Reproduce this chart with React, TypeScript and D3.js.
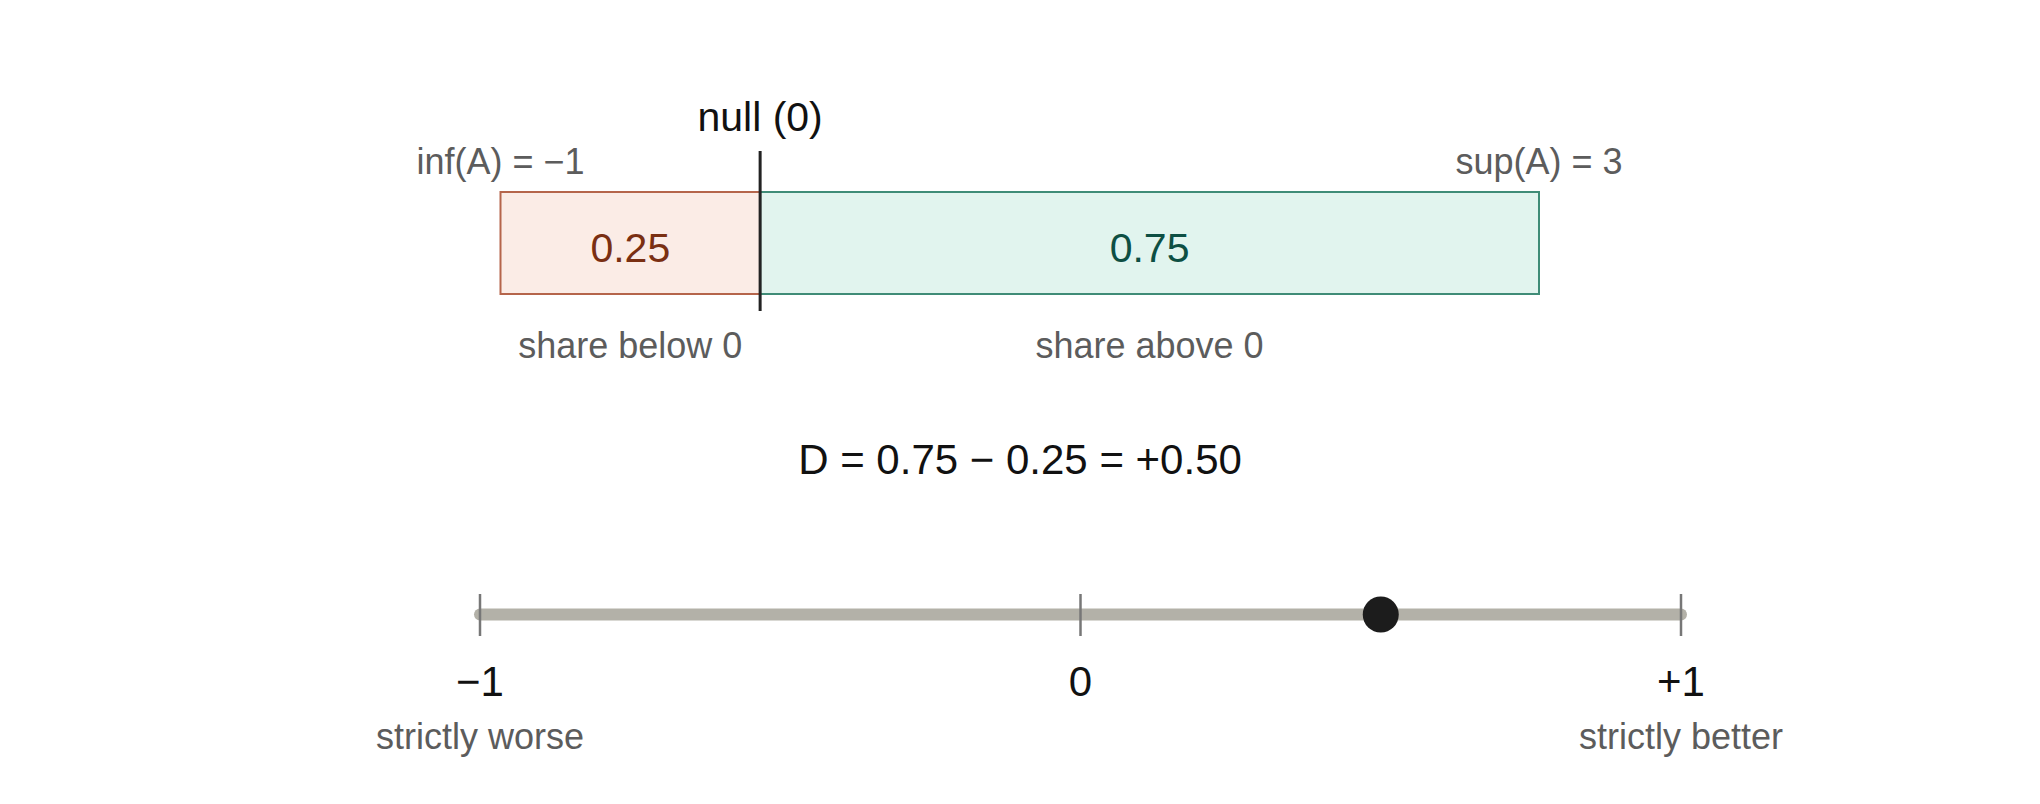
import React from 'react';
import * as d3 from 'd3';

// support of A and the null value
const supportBounds = [-1, 3];
const nullValue = 0;
const shareLabels = ['share below 0', 'share above 0'];
const shareValues = [0.25, 0.75];
const boundLabels = ['inf(A) = −1', 'sup(A) = 3'];

// dominance score
const dValue = 0.5;
const dLabel = 'D = 0.75 − 0.25 = +0.50';
const scaleTicks = [-1, 0, 1];
const tickLabels = ['−1', '0', '+1'];
const endLabels = ['strictly worse', 'strictly better'];

const W = 2040;
const H = 804;
const font = '"Liberation Sans", Arial, Helvetica, sans-serif';

const segFill = ['#fbece6', '#e1f4ee'];
const segStroke = ['#b5654b', '#3f8c77'];
const segText = ['#7a2f12', '#0d4f43'];
const grey = '#5c5c5c';

const App: React.FC = () => {
  const xTop = d3.scaleLinear().domain(supportBounds).range([500.5, 1539]);
  const xD = d3.scaleLinear().domain([-1, 1]).range([480, 1681]);

  const barTop = 192;
  const barH = 102;
  const trackY = 614.5;

  const segments = [
    [supportBounds[0], nullValue],
    [nullValue, supportBounds[1]],
  ];

  return (
    <svg
      width={W}
      height={H}
      style={{ position: 'absolute', left: 0, top: 0, background: '#fff' }}
      fontFamily={font}
    >
      {segments.map((s, i) => (
        <g key={i}>
          <rect
            x={xTop(s[0])}
            y={barTop}
            width={xTop(s[1]) - xTop(s[0])}
            height={barH}
            fill={segFill[i]}
            stroke={segStroke[i]}
            strokeWidth={2}
          />
          <text
            x={(xTop(s[0]) + xTop(s[1])) / 2}
            y={261.5}
            textAnchor="middle"
            fontSize={41}
            fill={segText[i]}
          >
            {shareValues[i].toFixed(2)}
          </text>
          <text
            x={(xTop(s[0]) + xTop(s[1])) / 2}
            y={358}
            textAnchor="middle"
            fontSize={36}
            fill={grey}
          >
            {shareLabels[i]}
          </text>
        </g>
      ))}

      {supportBounds.map((b, i) => (
        <text key={i} x={xTop(b)} y={174} textAnchor="middle" fontSize={36} fill={grey}>
          {boundLabels[i]}
        </text>
      ))}

      <line
        x1={xTop(nullValue)}
        x2={xTop(nullValue)}
        y1={151}
        y2={311}
        stroke="#222"
        strokeWidth={3}
      />
      <text x={xTop(nullValue)} y={131} textAnchor="middle" fontSize={41} fill="#111">
        null (0)
      </text>

      <text x={W / 2} y={474} textAnchor="middle" fontSize={42} fill="#111">
        {dLabel}
      </text>

      <line
        x1={xD(-1)}
        x2={xD(1)}
        y1={trackY}
        y2={trackY}
        stroke="#b3b1a8"
        strokeWidth={12}
        strokeLinecap="round"
      />
      {scaleTicks.map((t, i) => (
        <g key={t}>
          <line x1={xD(t)} x2={xD(t)} y1={594} y2={636} stroke="#777" strokeWidth={2.5} />
          <text x={xD(t)} y={696} textAnchor="middle" fontSize={42} fill="#111">
            {tickLabels[i]}
          </text>
        </g>
      ))}
      {[-1, 1].map((t, i) => (
        <text key={t} x={xD(t)} y={749} textAnchor="middle" fontSize={36} fill={grey}>
          {endLabels[i]}
        </text>
      ))}
      <circle cx={xD(dValue)} cy={trackY} r={18} fill="#1c1c1c" />
    </svg>
  );
};

export default App;
